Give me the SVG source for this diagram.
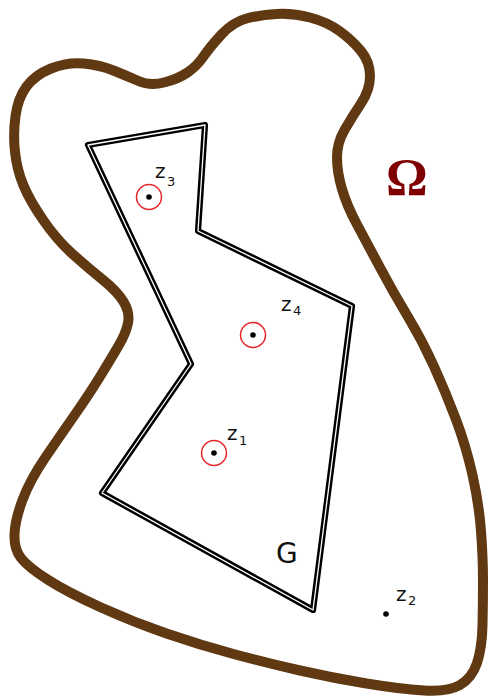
<svg xmlns="http://www.w3.org/2000/svg" width="488" height="700" viewBox="0 0 488 700">
<style>
.omega-outline{fill:none;stroke:#603913;stroke-width:10;stroke-linejoin:round;stroke-linecap:round}
.g-outer{fill:none;stroke:#000;stroke-width:6.2;stroke-linejoin:round}
.g-inner{fill:none;stroke:#fff;stroke-width:1.3;stroke-linejoin:round}
.ring{fill:none;stroke:#e8262a;stroke-width:1.5}
.dot{fill:#000}
.lbl{font-family:"DejaVu Sans",Verdana,sans-serif;fill:#111}
.z{font-size:20px}
.sub{font-size:13px}
</style>
<rect width="488" height="700" fill="#fff"/>
<g id="omega">
<path class="omega-outline" d="M 276.5,14 Q 260,15 246.5,18.5 Q 233,22 221.5,34.5 Q 210,47 203.5,56.5 Q 197,66 187.5,72.5 Q 178,79 164,82.5 Q 150,86 138.5,81 Q 127,76 113.5,70.5 Q 100,65 83.5,63.5 Q 67,62 51,68.5 Q 35,75 26.5,86.5 Q 18,98 15.5,116 Q 13,134 15,152 Q 17,170 23.5,185.5 Q 30,201 43.5,220.5 Q 57,240 72,253.5 Q 87,267 102.5,279.5 Q 118,292 124,302.5 Q 130,313 128,323 Q 126,333 119,345 Q 112,357 101,375 Q 90,393 75,414.5 Q 60,436 45,458 Q 30,480 22.5,500 Q 15,520 14.5,534.5 Q 14,549 21,558 Q 28,567 47.5,579.5 Q 67,592 100,607 Q 133,622 166.5,633.5 Q 200,645 233.5,654 Q 267,663 300,670.5 Q 333,678 366.5,683.5 Q 400,689 424,690.5 Q 448,692 460,685 Q 472,678 477,663 Q 482,648 482.5,625.5 Q 483,603 483,580.5 Q 483,558 481,531 Q 479,504 472.5,475 Q 466,446 456,419.5 Q 446,393 434,366.5 Q 422,340 407.5,316 Q 393,292 380,267.5 Q 367,243 357,224.5 Q 347,206 342,189 Q 337,172 337,157.5 Q 337,143 344.5,130 Q 352,117 361,103.5 Q 370,90 370,76 Q 370,62 361,51 Q 352,40 339.5,31 Q 327,22 310,17.5 Q 293,13 276.5,14 Z"/>
<text x="386" y="195" font-family="Liberation Serif,'Times New Roman',serif" font-size="52" font-weight="bold" fill="#7f0000">Ω</text>
</g>
<g id="G">
<polygon class="g-outer" points="88,145 205,125 198,231 352,306 313,610 102,493 191,364"/>
<polygon class="g-inner" points="88,145 205,125 198,231 352,306 313,610 102,493 191,364"/>
<text class="lbl" x="276" y="563" font-size="28">G</text>
</g>
<g id="z3">
<circle class="ring" cx="149" cy="197" r="12.5"/>
<circle class="dot" cx="149" cy="197" r="2.8"/>
<text class="lbl"><tspan class="z" x="155" y="178">z</tspan><tspan class="sub" x="167" y="186">3</tspan></text>
</g>
<g id="z4">
<circle class="ring" cx="253" cy="335" r="12.5"/>
<circle class="dot" cx="253" cy="335" r="2.8"/>
<text class="lbl"><tspan class="z" x="281" y="311">z</tspan><tspan class="sub" x="293" y="315">4</tspan></text>
</g>
<g id="z1">
<circle class="ring" cx="214" cy="453" r="12.5"/>
<circle class="dot" cx="214" cy="453" r="2.8"/>
<text class="lbl"><tspan class="z" x="227" y="440">z</tspan><tspan class="sub" x="239" y="445">1</tspan></text>
</g>
<g id="z2">
<circle class="dot" cx="386" cy="614" r="2.8"/>
<text class="lbl"><tspan class="z" x="396" y="601">z</tspan><tspan class="sub" x="408" y="605">2</tspan></text>
</g>
<g id="connectors"/>
</svg>
